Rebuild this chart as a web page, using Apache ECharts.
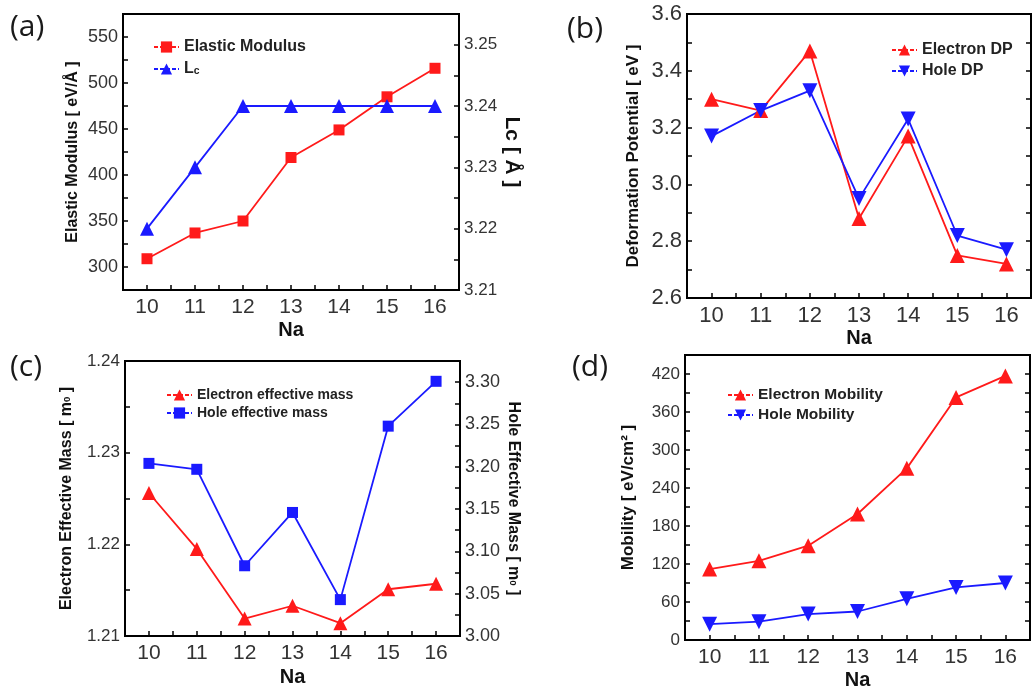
<!DOCTYPE html>
<html>
<head>
<meta charset="utf-8">
<script src="https://cdn.jsdelivr.net/npm/echarts@6/dist/echarts.min.js"></script>
<style>html,body{margin:0;padding:0;background:#fff}#c{width:1034px;height:694px}</style>
</head>
<body>
<div id="c"></div>
<script>
const naValues = [10, 11, 12, 13, 14, 15, 16];
const elasticModulus = [309, 337, 350, 419, 449, 485, 516];
const lcValues = [3.220, 3.230, 3.240, 3.240, 3.240, 3.240, 3.240];
const electronDP = [3.30, 3.26, 3.47, 2.88, 3.17, 2.75, 2.72];
const holeDP = [3.17, 3.26, 3.33, 2.95, 3.23, 2.82, 2.77];
const electronMass = [1.2256, 1.2195, 1.2119, 1.2133, 1.2114, 1.2151, 1.2157];
const holeMass = [3.204, 3.197, 3.083, 3.146, 3.043, 3.248, 3.301];
const electronMobility = [112, 125, 149, 199, 271, 383, 417];
const holeMobility = [25, 29, 41, 45, 65, 83, 90];
const panelLabels = ['(a)', '(b)', '(c)', '(d)'];

const RED = '#ff1a1a', BLUE = '#1a1aff';
const FONT = '"Liberation Sans", Arial, sans-serif';
const pairs = (ys) => naValues.map((x, i) => [x, ys[i]]);
const stepFmt = (step, dec) => (v) => Math.abs(v / step - Math.round(v / step)) < 1e-6 ? v.toFixed(dec) : '';

const axisLine = { show: true, onZero: false, lineStyle: { color: '#000', width: 2 } };
const axisTick = { show: true, inside: true, length: 5, lineStyle: { color: '#000', width: 1.5 } };

function xAx(gi, size, gap) {
  return {
    type: 'value', gridIndex: gi, min: 9.5, max: 16.5, interval: 0.5,
    axisLine, axisTick, splitLine: { show: false },
    axisLabel: { color: '#333', fontFamily: FONT, fontSize: size, margin: 7,
      formatter: (v) => Math.abs(v - Math.round(v)) < 1e-6 ? String(Math.round(v)) : '' },
    name: 'Na', nameLocation: 'middle', nameGap: gap,
    nameTextStyle: { color: '#111', fontFamily: FONT, fontWeight: 'bold', fontSize: 20 }
  };
}
function yAx(gi, pos, min, max, interval, step, dec, size, name, nameSize, gap, extra) {
  const o = {
    type: 'value', gridIndex: gi, position: pos, min, max, interval,
    axisLine, axisTick, splitLine: { show: false },
    axisLabel: { show: size > 0, color: '#333', fontFamily: FONT, fontSize: size || 12, margin: 5,
      formatter: stepFmt(step, dec) },
  };
  if (name) {
    o.name = name; o.nameLocation = 'middle'; o.nameGap = gap;
    o.nameRotate = pos === 'left' ? 90 : -90;
    o.nameTextStyle = { color: '#111', fontFamily: FONT, fontWeight: 'bold', fontSize: nameSize,
      rich: { sub: { fontSize: nameSize * 0.6, fontFamily: FONT, fontWeight: 'bold', color: '#111' } } };
  }
  return Object.assign(o, extra || {});
}
function line(name, data, xi, yi, color, symbol, rot, size) {
  return {
    type: 'line', name, data, xAxisIndex: xi, yAxisIndex: yi,
    symbol, symbolSize: size, symbolRotate: rot,
    lineStyle: { color, width: 1.8 }, itemStyle: { color },
    animation: false, z: 3
  };
}
function legend(names, left, top, size, gap) {
  return {
    data: names, left, top, orient: 'vertical', itemGap: gap, itemWidth: 25, itemHeight: 14,
    lineStyle: { type: [4, 2] },
    textStyle: { color: '#222', fontFamily: FONT, fontWeight: 'bold', fontSize: size,
      rich: { s: { fontSize: size * 0.65, fontFamily: FONT, fontWeight: 'bold', color: '#222', padding: [4, 0, 0, 0] } } },
    formatter: (n) => n === 'Lc' ? 'L{s|c}' : n,
    selectedMode: false
  };
}

const grids = [
  { left: 123, top: 14, width: 336, height: 276 },
  { left: 687, top: 14, width: 345, height: 284 },
  { left: 125, top: 361, width: 335, height: 275 },
  { left: 685, top: 355, width: 345, height: 285 }
].map(g => Object.assign(g, { show: true, borderColor: '#000', borderWidth: 2, backgroundColor: 'transparent' }));

const labelPos = [[10, 12], [567, 14], [10, 352], [572, 352]];

const option = {
  backgroundColor: '#fff',
  animation: false,
  grid: grids,
  xAxis: [xAx(0, 21, 30), xAx(1, 22, 30), xAx(2, 21, 31), xAx(3, 21, 30)],
  yAxis: [
    yAx(0, 'left', 275, 575, 25, 50, 0, 18, 'Elastic Modulus [ eV/Å ]', 16, 42),
    yAx(0, 'right', 3.21, 3.255, 0.005, 0.01, 2, 17, 'Lc [ Å ]', 21, 41),
    yAx(1, 'left', 2.6, 3.6, 0.1, 0.2, 1, 22, 'Deformation Potential [ eV ]', 17, 45),
    yAx(1, 'right', 2.6, 3.6, 0.1, 0.2, 1, 0, null),
    yAx(2, 'left', 1.21, 1.24, 0.005, 0.01, 2, 17, 'Electron Effective Mass [ m{sub|0} ]', 16, 50),
    yAx(2, 'right', 3.0, 3.325, 0.025, 0.05, 2, 18, 'Hole Effective Mass [ m{sub|0} ]', 16, 45),
    yAx(3, 'left', 0, 450, 30, 60, 0, 17, 'Mobility [ eV/cm² ]', 17, 48),
    yAx(3, 'right', 0, 450, 30, 60, 0, 0, null)
  ],
  legend: [
    legend(['Elastic Modulus', 'Lc'], 148, 34, 16, 6),
    legend(['Electron DP', 'Hole DP'], 886, 37, 16, 5),
    legend(['Electron effective mass', 'Hole effective mass'], 161, 383, 14, 4),
    legend(['Electron Mobility', 'Hole Mobility'], 722, 382, 15.5, 4)
  ],
  graphic: panelLabels.map((t, i) => ({
    type: 'text', left: labelPos[i][0], top: labelPos[i][1],
    style: { text: t, fontSize: 30, fontFamily: '"Open Sans", "Liberation Sans", sans-serif', fill: '#1a1a1a' }
  })),
  series: [
    line('Elastic Modulus', pairs(elasticModulus), 0, 0, RED, 'rect', 0, 11),
    line('Lc', pairs(lcValues), 0, 1, BLUE, 'triangle', 0, 14),
    line('Electron DP', pairs(electronDP), 1, 2, RED, 'triangle', 0, 15),
    line('Hole DP', pairs(holeDP), 1, 2, BLUE, 'triangle', 180, 15),
    line('Electron effective mass', pairs(electronMass), 2, 4, RED, 'triangle', 0, 14),
    line('Hole effective mass', pairs(holeMass), 2, 5, BLUE, 'rect', 0, 11),
    line('Electron Mobility', pairs(electronMobility), 3, 6, RED, 'triangle', 0, 15),
    line('Hole Mobility', pairs(holeMobility), 3, 6, BLUE, 'triangle', 180, 15)
  ]
};
const chart = echarts.init(document.getElementById('c'), null, { renderer: 'canvas' });
chart.setOption(option);
</script>
</body>
</html>
